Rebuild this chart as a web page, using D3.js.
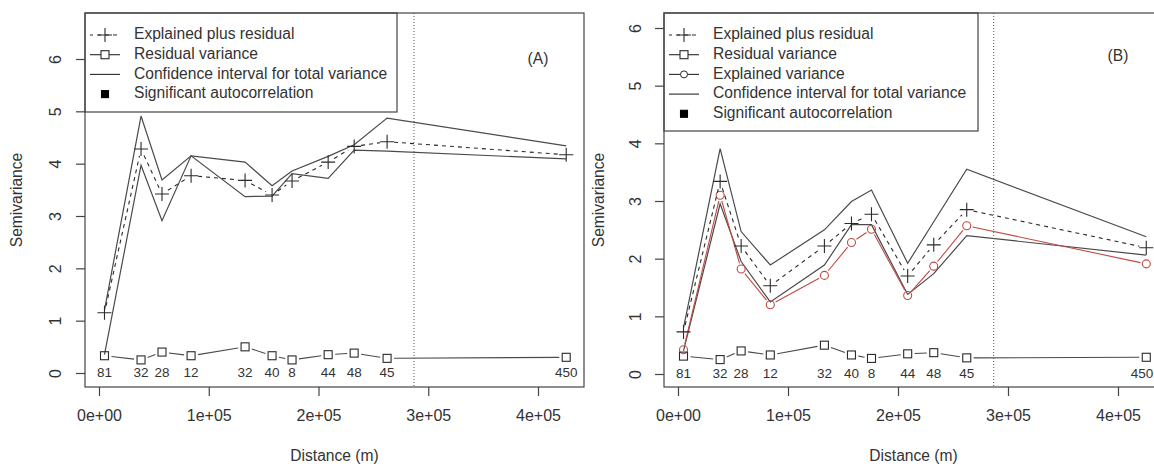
<!DOCTYPE html>
<html><head><meta charset="utf-8">
<script src="https://cdn.jsdelivr.net/npm/d3@7"></script>
<style>body{margin:0;background:#fff}svg{display:block;font-family:"Liberation Sans",Arial,sans-serif}</style>
</head><body><svg id="c" width="1154" height="466"></svg>
<script>
// lag distances (m) and pair counts
const distances = [5000, 38300, 57400, 83900, 133100, 157700, 175900, 208800, 232500, 262500, 425700];
const counts = [81, 32, 28, 12, 32, 40, 8, 44, 48, 45, 450];
const xTickVals = [0, 1e5, 2e5, 3e5, 4e5];
const xTickLabels = ["0e+00", "1e+05", "2e+05", "3e+05", "4e+05"];
const yTickVals = [0, 1, 2, 3, 4, 5, 6];
const cutoff = 287000;

// Panel A
const totalA = [1.15, 4.28, 3.42, 3.77, 3.68, 3.40, 3.67, 4.03, 4.33, 4.42, 4.17];
const residualA = [0.33, 0.25, 0.40, 0.33, 0.50, 0.33, 0.25, 0.35, 0.38, 0.28, 0.30];
const upperA = [1.20, 4.91, 3.69, 4.15, 4.03, 3.58, 3.86, 4.14, 4.36, 4.87, 4.34];
const lowerA = [0.35, 3.97, 2.91, 4.15, 3.37, 3.38, 3.81, 3.72, 4.26, 4.24, 4.09];

// Panel B
const totalB = [0.73, 3.34, 2.22, 1.53, 2.22, 2.61, 2.77, 1.70, 2.24, 2.85, 2.19];
const residualB = [0.31, 0.25, 0.40, 0.33, 0.50, 0.33, 0.27, 0.35, 0.37, 0.28, 0.29];
const explainedB = [0.42, 3.10, 1.82, 1.20, 1.71, 2.28, 2.51, 1.36, 1.87, 2.57, 1.91];
const upperB = [0.80, 3.91, 2.47, 1.89, 2.50, 2.99, 3.19, 1.92, 2.64, 3.55, 2.38];
const lowerB = [0.40, 2.95, 1.95, 1.25, 1.89, 2.59, 2.59, 1.38, 1.74, 2.40, 2.06];

const legendA = ["Explained plus residual", "Residual variance", "Confidence interval for total variance", "Significant autocorrelation"];
const legendB = ["Explained plus residual", "Residual variance", "Explained variance", "Confidence interval for total variance", "Significant autocorrelation"];

const W = 1154;
const svg = d3.select("#c");
svg.append("rect").attr("width", W).attr("height", 466).attr("fill", "#fff");

const INK = "#2a2a2a", LINE = "#4a4a4a", RED = "#bf4a44";
const FS = 15.6;

function plusPath(g, x, y, s, color) {
  g.append("path").attr("d", `M${x - s},${y}H${x + s}M${x},${y - s}V${y + s}`)
    .attr("stroke", color).attr("stroke-width", 1.1).attr("fill", "none");
}
function square(g, x, y, s, color, fill) {
  g.append("rect").attr("x", x - s).attr("y", y - s).attr("width", 2 * s).attr("height", 2 * s)
    .attr("stroke", color).attr("stroke-width", 1.1).attr("fill", fill || "none");
}
function circle(g, x, y, r, color) {
  g.append("circle").attr("cx", x).attr("cy", y).attr("r", r).attr("stroke", color).attr("stroke-width", 1.1).attr("fill", "none");
}

// R-style type="b": segments with gaps around points
function gappedLines(g, xs, vals, x, y, gap, color, dash) {
  for (let i = 0; i < xs.length - 1; i++) {
    const x1 = x(xs[i]), y1 = y(vals[i]), x2 = x(xs[i + 1]), y2 = y(vals[i + 1]);
    const dx = x2 - x1, dy = y2 - y1, L = Math.hypot(dx, dy);
    if (L <= 2 * gap) continue;
    const ux = dx / L, uy = dy / L;
    g.append("line").attr("x1", x1 + ux * gap).attr("y1", y1 + uy * gap)
      .attr("x2", x2 - ux * gap).attr("y2", y2 - uy * gap)
      .attr("stroke", color).attr("stroke-width", 1.1)
      .attr("stroke-dasharray", dash || null);
  }
}

function panel(cfg) {
  const g = svg.append("g");
  const x = d3.scaleLinear().domain([0, 4e5]).range(cfg.xr);
  const y = d3.scaleLinear().domain([0, 6]).range(cfg.yr);
  const [bx0, bx1, by0, by1] = cfg.box;

  const line = d3.line().x((d, i) => x(distances[i])).y(d => y(d));

  // confidence interval lines
  g.append("path").attr("d", line(cfg.upper)).attr("fill", "none").attr("stroke", LINE).attr("stroke-width", 1.2);
  g.append("path").attr("d", line(cfg.lower)).attr("fill", "none").attr("stroke", LINE).attr("stroke-width", 1.2);

  // explained variance (red)
  if (cfg.explained) {
    gappedLines(g, distances, cfg.explained, x, y, 6, RED);
    cfg.explained.forEach((v, i) => circle(g, x(distances[i]), y(v), 4, RED));
  }
  // explained plus residual (dashed with +)
  gappedLines(g, distances, cfg.total, x, y, 7, INK, "4,4");
  cfg.total.forEach((v, i) => plusPath(g, x(distances[i]), y(v), 7, INK));
  // residual variance (squares)
  gappedLines(g, distances, cfg.residual, x, y, 7, LINE);
  cfg.residual.forEach((v, i) => square(g, x(distances[i]), y(v), 4, INK));

  // counts (kept inside the visible page)
  g.selectAll(".cnt").data(counts).join("text")
    .attr("x", (d, i) => Math.min(x(distances[i]), W - 12))
    .attr("y", y(0))
    .attr("text-anchor", "middle").attr("dominant-baseline", "middle")
    .attr("font-size", 13.5).attr("fill", "#333").text(d => d);

  // cutoff dotted line
  g.append("line").attr("x1", x(cutoff)).attr("x2", x(cutoff)).attr("y1", by0).attr("y2", by1)
    .attr("stroke", "#555").attr("stroke-width", 1).attr("stroke-dasharray", "1,2");

  // legend
  const lb = cfg.legendBox;
  g.append("rect").attr("x", lb[0]).attr("y", lb[1]).attr("width", lb[2] - lb[0]).attr("height", lb[3] - lb[1])
    .attr("fill", "#fff").attr("stroke", "#444").attr("stroke-width", 1.2);
  cfg.legend.forEach((t, i) => {
    const ry = lb[1] + 22 + i * 19.7;
    const sx = lb[0] + 20;
    if (t === "Explained plus residual") {
      g.append("line").attr("x1", sx - 15).attr("x2", sx + 15).attr("y1", ry).attr("y2", ry)
        .attr("stroke", INK).attr("stroke-width", 1.1).attr("stroke-dasharray", "4,4").attr("stroke-dashoffset", 1);
      plusPath(g, sx, ry, 7, INK);
    } else if (t === "Residual variance") {
      g.append("line").attr("x1", sx - 15).attr("x2", sx + 15).attr("y1", ry).attr("y2", ry).attr("stroke", INK).attr("stroke-width", 1.1);
      square(g, sx, ry, 4, INK, "#fff");
    } else if (t === "Explained variance") {
      g.append("line").attr("x1", sx - 15).attr("x2", sx + 15).attr("y1", ry).attr("y2", ry).attr("stroke", INK).attr("stroke-width", 1.1);
      g.append("circle").attr("cx", sx).attr("cy", ry).attr("r", 3.5).attr("stroke", INK).attr("fill", "#fff");
    } else if (t.startsWith("Confidence")) {
      g.append("line").attr("x1", sx - 15).attr("x2", sx + 15).attr("y1", ry).attr("y2", ry).attr("stroke", INK).attr("stroke-width", 1.1);
    } else {
      square(g, sx, ry, 3.5, "#000", "#000");
    }
    g.append("text").attr("x", lb[0] + 49).attr("y", ry).attr("dominant-baseline", "middle")
      .attr("font-size", FS).attr("fill", "#333").text(t);
  });

  // panel tag
  g.append("text").attr("x", cfg.tag[1]).attr("y", cfg.tag[2]).attr("text-anchor", "middle")
    .attr("dominant-baseline", "middle").attr("font-size", FS).attr("fill", "#333").text(cfg.tag[0]);

  // box
  g.append("rect").attr("x", bx0).attr("y", by0).attr("width", bx1 - bx0).attr("height", by1 - by0)
    .attr("fill", "none").attr("stroke", "#444").attr("stroke-width", 1.2);

  // x axis
  const xa = g.append("g").attr("transform", `translate(0,${by1})`)
    .call(d3.axisBottom(x).tickValues(xTickVals).tickFormat((d, i) => xTickLabels[i]).tickSize(9).tickPadding(14));
  xa.select(".domain").remove();
  xa.selectAll("line").attr("stroke", "#444").attr("stroke-width", 1.2);
  xa.selectAll("text").attr("font-size", 16).attr("fill", "#333").attr("font-family", "Liberation Sans, Arial, sans-serif");

  // y axis
  const ya = g.append("g").attr("transform", `translate(${bx0},0)`)
    .call(d3.axisLeft(y).tickValues(yTickVals).tickFormat(d3.format("d")).tickSize(9));
  ya.select(".domain").remove();
  ya.selectAll("line").attr("stroke", "#444").attr("stroke-width", 1.2);
  ya.selectAll("text").attr("font-size", 16).attr("fill", "#333").attr("font-family", "Liberation Sans, Arial, sans-serif")
    .attr("x", null).attr("dy", null).attr("text-anchor", "middle").attr("dominant-baseline", "middle")
    .attr("transform", `translate(${cfg.ylabX - bx0},0) rotate(-90)`);

  // axis titles
  g.append("text").attr("x", (bx0 + bx1) / 2).attr("y", 457).attr("text-anchor", "middle")
    .attr("dominant-baseline", "middle").attr("font-size", FS).attr("fill", "#333").text("Distance (m)");
  g.append("text").attr("transform", `translate(${cfg.titleX},${(by0 + by1) / 2}) rotate(-90)`)
    .attr("text-anchor", "middle").attr("dominant-baseline", "middle").attr("font-size", FS).attr("fill", "#333").text("Semivariance");
}

panel({
  xr: [99, 538], yr: [373, 59], box: [85, 584, 13, 387],
  total: totalA, residual: residualA, upper: upperA, lower: lowerA,
  legend: legendA, legendBox: [85, 13, 397, 112], tag: ["(A)", 538, 60],
  ylabX: 57, titleX: 18
});
panel({
  xr: [678, 1118], yr: [374, 28], box: [664, 1163, 13, 387],
  total: totalB, residual: residualB, explained: explainedB, upper: upperB, lower: lowerB,
  legend: legendB, legendBox: [664, 13, 978, 131], tag: ["(B)", 1118, 57],
  ylabX: 637, titleX: 600
});
</script></body></html>
